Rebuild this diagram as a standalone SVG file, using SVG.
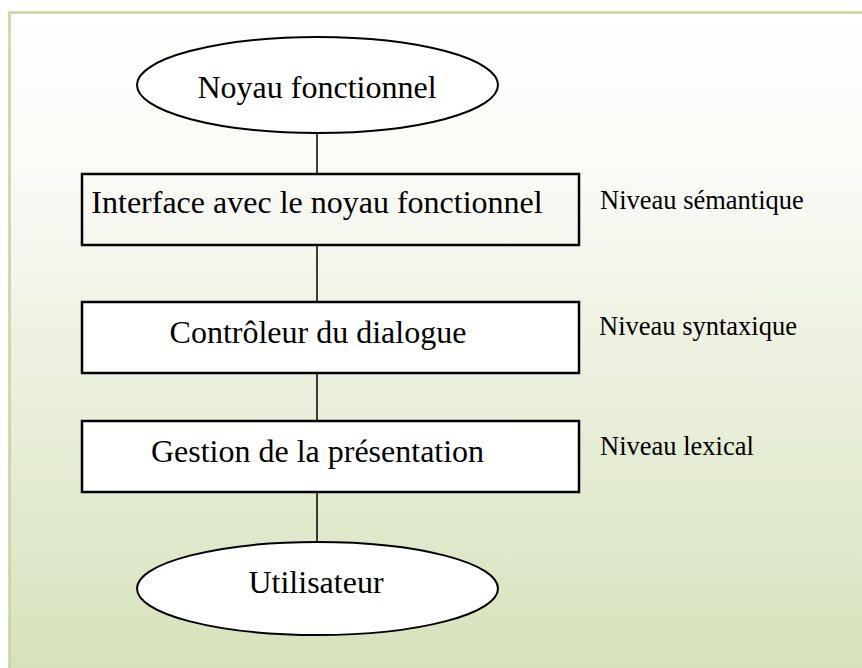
<svg xmlns="http://www.w3.org/2000/svg" width="862" height="668" viewBox="0 0 862 668">
  <defs>
    <linearGradient id="bg" x1="0" y1="12" x2="0" y2="668" gradientUnits="userSpaceOnUse">
      <stop offset="0" stop-color="#ffffff"/>
      <stop offset="0.25" stop-color="#fafaf6"/>
      <stop offset="1" stop-color="#d6e2bb"/>
    </linearGradient>
    <style>
      .lbl { font-family: "Liberation Serif", "Times New Roman", serif; font-size: 32px; fill: #000; text-anchor: middle; }
      .side { font-family: "Liberation Serif", "Times New Roman", serif; font-size: 26.5px; fill: #000; }
      .box { stroke: #000; stroke-width: 2.5; }
      .ell { fill: #fff; stroke: #000; stroke-width: 2; }
      .conn { stroke: #000; stroke-width: 1.5; fill: none; }
    </style>
  </defs>
  <rect x="0" y="0" width="862" height="668" fill="#ffffff"/>
  <rect x="9.5" y="12.5" width="870" height="670" fill="url(#bg)" stroke="#c3d69b" stroke-width="2.5"/>

  <g id="connectors">
    <line class="conn" x1="317" y1="133" x2="317" y2="174"/>
    <line class="conn" x1="317" y1="245" x2="317" y2="302"/>
    <line class="conn" x1="317" y1="373" x2="317" y2="421"/>
    <line class="conn" x1="317" y1="492" x2="317" y2="542"/>
  </g>

  <g id="noyau">
    <ellipse class="ell" cx="317.5" cy="85" rx="180.5" ry="48"/>
    <text class="lbl" x="317" y="98">Noyau fonctionnel</text>
  </g>

  <g id="interface">
    <rect class="box" x="82" y="174" width="497" height="71" fill="none"/>
    <text class="lbl" x="317" y="213">Interface avec le noyau fonctionnel</text>
  </g>

  <g id="controleur">
    <rect class="box" x="82" y="302" width="497" height="71" fill="#ffffff"/>
    <text class="lbl" x="318" y="343">Contrôleur du dialogue</text>
  </g>

  <g id="gestion">
    <rect class="box" x="82" y="421" width="497" height="71" fill="#ffffff"/>
    <text class="lbl" x="317.5" y="462">Gestion de la présentation</text>
  </g>

  <g id="utilisateur">
    <ellipse class="ell" cx="317.5" cy="588.5" rx="180.5" ry="46.5"/>
    <text class="lbl" x="316" y="593">Utilisateur</text>
  </g>

  <g id="niveau-semantique">
    <text class="side" x="600" y="209">Niveau sémantique</text>
  </g>
  <g id="niveau-syntaxique">
    <text class="side" x="599" y="335">Niveau syntaxique</text>
  </g>
  <g id="niveau-lexical">
    <text class="side" x="600" y="455">Niveau lexical</text>
  </g>
</svg>
